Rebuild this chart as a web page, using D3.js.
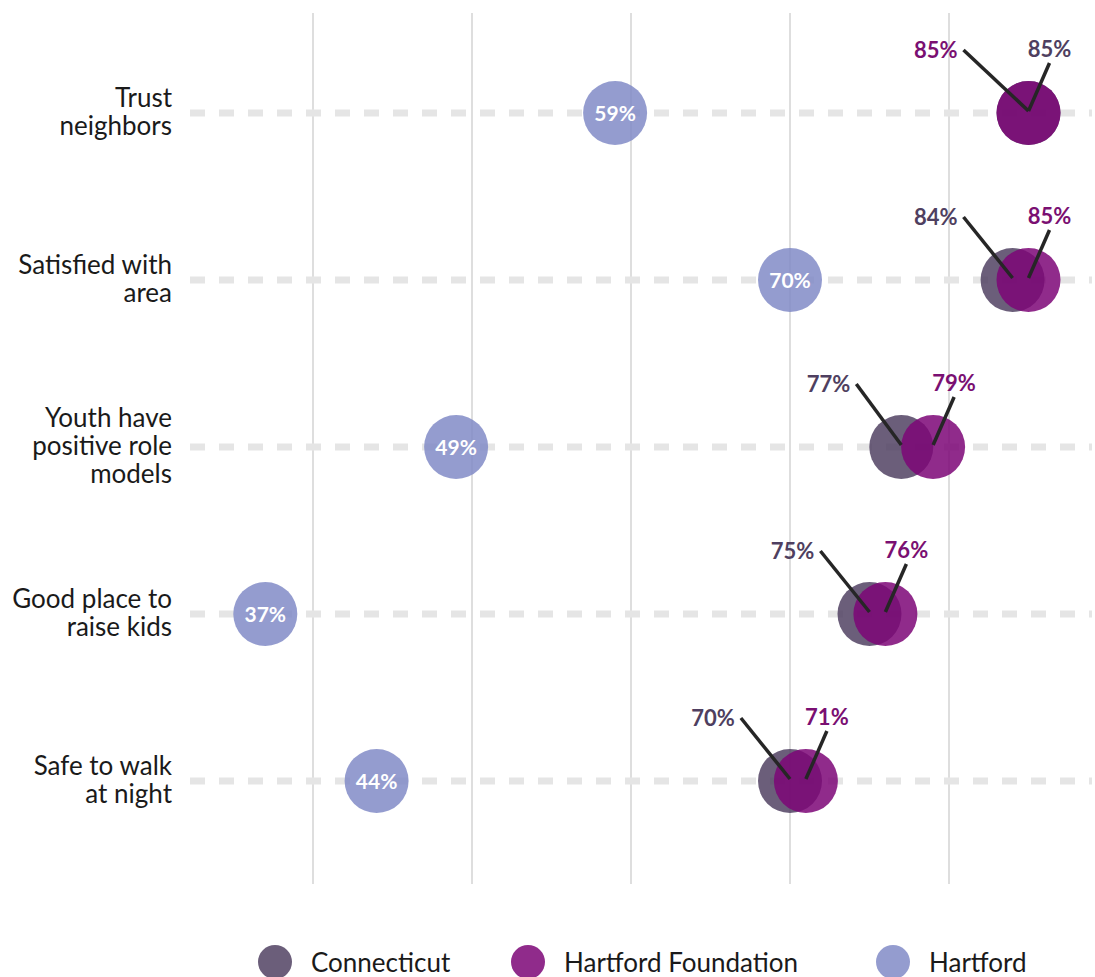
<!DOCTYPE html>
<html>
<head>
<meta charset="utf-8">
<script src="https://cdn.jsdelivr.net/npm/d3@7"></script>
<style>
  html, body { margin: 0; padding: 0; background: #fff; }
  svg { display: block; font-family: Lato, "Noto Sans", sans-serif; }
</style>
</head>
<body>
<svg id="chart" width="1095" height="977"></svg>
<script>
// Survey measures (rows, top to bottom)
const categories = [
  ["Trust", "neighbors"],
  ["Satisfied with", "area"],
  ["Youth have", "positive role", "models"],
  ["Good place to", "raise kids"],
  ["Safe to walk", "at night"]
];
const connecticut = [85, 84, 77, 75, 70];
const hartfordFoundation = [85, 85, 79, 76, 71];
const hartford = [59, 70, 49, 37, 44];
const gridTicks = [40, 50, 60, 70, 80];
const seriesNames = ["Connecticut", "Hartford Foundation", "Hartford"];

const colors = {
  Connecticut: "#514263",
  "Hartford Foundation": "#7c0677",
  Hartford: "#818bc7"
};
const labelColors = {
  Connecticut: "#4f3f60",
  "Hartford Foundation": "#7a0f72"
};

const svg = d3.select("#chart");

const x = d3.scaleLinear().domain([40, 80]).range([313, 949]);
const y = d3.scalePoint().domain(d3.range(categories.length)).range([113, 781]);
const r = 32;

// vertical gridlines
svg.append("g")
  .selectAll("line")
  .data(gridTicks)
  .join("line")
  .attr("x1", d => x(d)).attr("x2", d => x(d))
  .attr("y1", 13).attr("y2", 884)
  .attr("stroke", "#dedede")
  .attr("stroke-width", 2);

// dashed row guides
svg.append("g")
  .selectAll("line")
  .data(categories)
  .join("line")
  .attr("x1", 190).attr("x2", 1092)
  .attr("y1", (d, i) => y(i)).attr("y2", (d, i) => y(i))
  .attr("stroke", "#e5e5e5")
  .attr("stroke-width", 7)
  .attr("stroke-dasharray", "15 14");

// row labels
const lineH = 28;
svg.append("g")
  .selectAll("text")
  .data(categories)
  .join("text")
  .attr("text-anchor", "end")
  .attr("font-size", 26)
  .attr("fill", "#1a1a1a")
  .each(function (lines, i) {
    const t = d3.select(this);
    const base = y(i) + 8 - (lines.length - 1) / 2 * lineH;
    lines.forEach((ln, k) => {
      t.append("tspan").attr("x", 172).attr("y", base + k * lineH).text(ln);
    });
  });

const rows = categories.map((c, i) => ({
  i,
  ct: connecticut[i],
  hf: hartfordFoundation[i],
  h: hartford[i]
}));

// Hartford circles with value inside
const hg = svg.append("g");
hg.selectAll("circle")
  .data(rows)
  .join("circle")
  .attr("cx", d => x(d.h)).attr("cy", d => y(d.i))
  .attr("r", r)
  .attr("fill", colors.Hartford)
  .attr("fill-opacity", 0.85);
hg.selectAll("text")
  .data(rows)
  .join("text")
  .attr("x", d => x(d.h)).attr("y", d => y(d.i) + 8)
  .attr("text-anchor", "middle")
  .attr("font-size", 21)
  .attr("font-weight", 700)
  .attr("fill", "#fff")
  .text(d => d.h + "%");

// Connecticut then Hartford Foundation on top
[["Connecticut", "ct"], ["Hartford Foundation", "hf"]].forEach(([name, key]) => {
  svg.append("g")
    .selectAll("circle")
    .data(rows)
    .join("circle")
    .attr("cx", d => x(d[key])).attr("cy", d => y(d.i))
    .attr("r", r)
    .attr("fill", colors[name])
    .attr("fill-opacity", 0.85);
});

// Callout labels: the lower value goes left (on ties Connecticut goes right),
// keeping a minimum gap between the two labels of a row.
const callouts = [];
rows.forEach(d => {
  const ctLeft = d.ct < d.hf;
  const left = ctLeft ? { name: "Connecticut", v: d.ct } : { name: "Hartford Foundation", v: d.hf };
  const right = ctLeft ? { name: "Hartford Foundation", v: d.hf } : { name: "Connecticut", v: d.ct };
  const cy = y(d.i);
  const rx = x(right.v) + 21;
  let lx = x(left.v) - 45;
  lx = Math.min(lx, rx - 86);
  callouts.push({ ...left, side: "left", cx: x(left.v), cy, sx: lx, sy: cy - 63 });
  callouts.push({ ...right, side: "right", cx: x(right.v), cy, sx: rx, sy: cy - 50 });
});

const cg = svg.append("g");
cg.selectAll("line")
  .data(callouts)
  .join("line")
  .attr("x1", d => d.sx).attr("y1", d => d.sy)
  .attr("x2", d => d.cx).attr("y2", d => d.cy - 2)
  .attr("stroke", "#262626")
  .attr("stroke-width", 3.5);
cg.selectAll("text")
  .data(callouts)
  .join("text")
  .attr("x", d => d.side === "left" ? d.sx - 6 : d.sx)
  .attr("y", d => d.side === "left" ? d.sy + 8 : d.sy - 6)
  .attr("text-anchor", d => d.side === "left" ? "end" : "middle")
  .attr("font-size", 22)
  .attr("font-weight", 700)
  .attr("fill", d => labelColors[d.name])
  .text(d => d.v + "%");

// legend
const legendX = [275, 528, 893];
const lg = svg.append("g")
  .selectAll("g")
  .data(seriesNames)
  .join("g")
  .attr("transform", (d, i) => `translate(${legendX[i]},962)`);
lg.append("circle")
  .attr("r", 17)
  .attr("fill", d => colors[d])
  .attr("fill-opacity", 0.85);
lg.append("text")
  .attr("x", 36).attr("y", 10)
  .attr("font-size", 26)
  .attr("fill", "#1a1a1a")
  .text(d => d);
</script>
</body>
</html>
